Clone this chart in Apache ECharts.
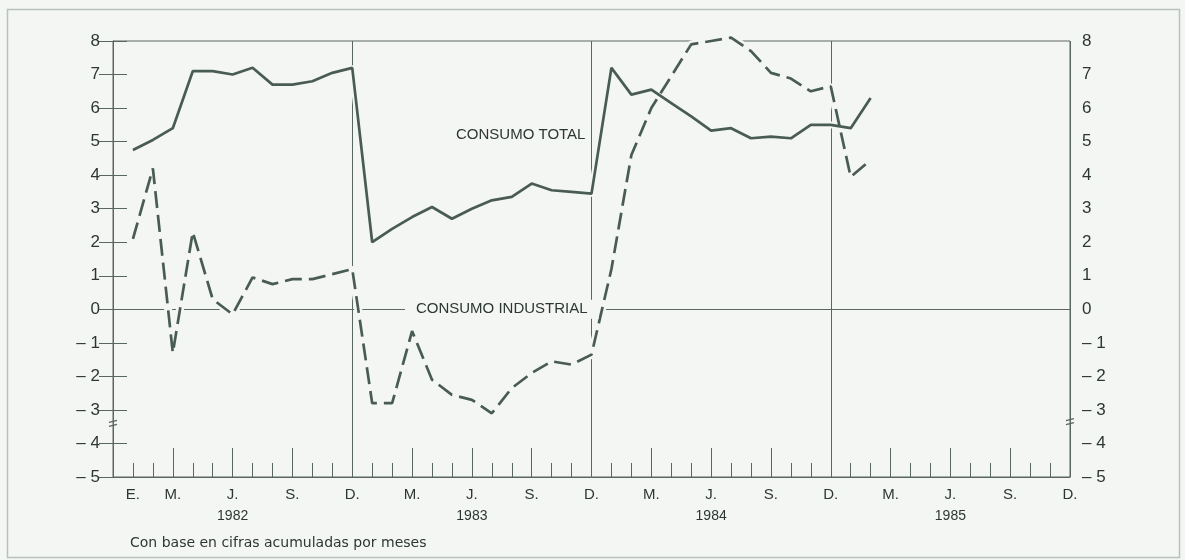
<!DOCTYPE html>
<html>
<head>
<meta charset="utf-8">
<script src="https://cdn.jsdelivr.net/npm/echarts@6/dist/echarts.min.js"></script>
<style>
html,body{margin:0;padding:0;background:#f4f6f4;}
#c{width:1185px;height:560px;}
</style>
</head>
<body>
<div id="c"></div>
<script>
// ---- data (month index: 1 = enero 1982, 12 = dic 1982, ... 48 = dic 1985)
const months = [1,2,3,4,5,6,7,8,9,10,11,12,13,14,15,16,17,18,19,20,21,22,23,24,25,26,27,28,29,30,31,32,33,34,35,36,37,38];
const consumoTotal = [4.75,5.05,5.4,7.1,7.1,7.0,7.2,6.7,6.7,6.8,7.05,7.2,
  2.0,2.4,2.75,3.05,2.7,3.0,3.25,3.35,3.75,3.55,3.5,3.45,
  7.2,6.4,6.55,6.15,5.75,5.33,5.4,5.1,5.15,5.1,5.5,5.5,
  5.4,6.3];
const consumoIndustrial = [2.1,4.2,-1.3,2.3,0.3,-0.15,0.95,0.75,0.9,0.9,1.05,1.2,
  -2.8,-2.8,-0.65,-2.1,-2.55,-2.7,-3.1,-2.35,-1.9,-1.55,-1.65,-1.35,
  1.2,4.6,6.0,6.95,7.9,8.0,8.1,7.7,7.05,6.88,6.5,6.65,
  3.95,4.45];
const labelMonths = [1,3,6,9,12,15,18,21,24,27,30,33,36,39,42,45,48];
const labelTexts  = ['E.','M.','J.','S.','D.','M.','J.','S.','D.','M.','J.','S.','D.','M.','J.','S.','D.'];
const yearMonths = [6,18,30,42];
const years = ['1982','1983','1984','1985'];
const seriesNames = ['CONSUMO TOTAL','CONSUMO INDUSTRIAL'];
const footnote = 'Con base en cifras acumuladas por meses';

const BG = '#f4f6f4';
const LINE = '#495b55';
const AXIS = '#5a6662';
const TEXT = '#2c3733';
const FONT = '"Liberation Sans", Arial, sans-serif';

const totalPts = months.map((m,i)=>[m, consumoTotal[i]]);
const indPts = months.map((m,i)=>[m, consumoIndustrial[i]]);

const chart = echarts.init(document.getElementById('c'), null, {renderer:'canvas'});

function xLabel(v){
  const i = labelMonths.indexOf(v);
  if (i < 0) return '';
  const k = yearMonths.indexOf(v);
  if (k >= 0) return '{m|' + labelTexts[i] + '}\n{y|' + years[k] + '}';
  return '{m|' + labelTexts[i] + '}';
}
function yLabel(v){ return v < 0 ? '\u2013 ' + (-v) : String(v); }

const baseX = {type:'value', min:0, max:48, position:'bottom', axisLine:{show:false, onZero:false},
  axisTick:{show:false}, axisLabel:{show:false}, splitLine:{show:false}};

chart.setOption({
  animation:false,
  backgroundColor:'transparent',
  grid:{left:113, right:115, top:41, bottom:83, show:true, borderColor:AXIS, borderWidth:1, backgroundColor:'transparent'},
  xAxis:[
    Object.assign({}, baseX, {interval:1,
      axisLine:{show:true, onZero:false, lineStyle:{color:AXIS, width:1}},
      axisTick:{show:true, inside:true, length:14, lineStyle:{color:AXIS, width:1}},
      axisLabel:{show:true, margin:8, formatter:xLabel, color:TEXT, fontFamily:FONT,
        rich:{m:{fontSize:15, lineHeight:19, color:TEXT, fontFamily:FONT},
              y:{fontSize:14, lineHeight:25, color:TEXT, fontFamily:FONT}}}}),
    Object.assign({}, baseX, {interval:3,
      axisTick:{show:true, inside:true, length:29, lineStyle:{color:AXIS, width:1}}}),
    Object.assign({}, baseX, {interval:12,
      splitLine:{show:true, lineStyle:{color:AXIS, width:1}}}),
    Object.assign({}, baseX, {interval:48,
      axisLine:{show:true, onZero:true, lineStyle:{color:AXIS, width:1}}})
  ],
  yAxis:[
    {type:'value', min:-5, max:8, interval:1, position:'left',
      axisLine:{show:true, lineStyle:{color:AXIS, width:1}},
      axisTick:{show:true, inside:true, length:14, lineStyle:{color:AXIS}},
      axisLabel:{margin:13, fontSize:17, color:TEXT, fontFamily:FONT, formatter:yLabel},
      splitLine:{show:false}},
    {type:'value', min:-5, max:8, interval:1, position:'right',
      axisLine:{show:true, lineStyle:{color:AXIS, width:1}},
      axisTick:{show:true, inside:true, length:14, lineStyle:{color:AXIS}},
      axisLabel:{margin:12, fontSize:17, color:TEXT, fontFamily:FONT, formatter:yLabel},
      splitLine:{show:false}}
  ],
  series:[
    {type:'line', data:indPts, showSymbol:false, clip:false, z:5, silent:true,
      lineStyle:{color:BG, width:8}},
    {type:'line', data:totalPts, showSymbol:false, clip:false, z:5, silent:true,
      lineStyle:{color:BG, width:7}},
    {name:seriesNames[1], type:'line', data:indPts, showSymbol:false, clip:false, z:6,
      lineStyle:{color:LINE, width:2.7, type:[17,7]}},
    {name:seriesNames[0], type:'line', data:totalPts, showSymbol:false, clip:false, z:6,
      lineStyle:{color:LINE, width:2.7}}
  ]
});

function px(x, y){ return chart.convertToPixel({gridIndex:0}, [x, y]); }
const pTot = px(20.45, 5.2);
const pInd = px(19.5, 0);
const bL = px(0, -3.4), bR = px(48, -3.35);
function breakMark(p){
  return [
    {type:'line', shape:{x1:p[0]-4, y1:p[1]-1, x2:p[0]+4, y2:p[1]-3}, style:{stroke:AXIS, lineWidth:1.3}, z:20},
    {type:'line', shape:{x1:p[0]-4, y1:p[1]+3, x2:p[0]+4, y2:p[1]+1}, style:{stroke:AXIS, lineWidth:1.3}, z:20}
  ];
}
chart.setOption({
  graphic:[
    {type:'rect', shape:{x:7.5, y:9.5, width:1172, height:548}, style:{fill:null, stroke:'#b9c1bd', lineWidth:1.5}, z:0, silent:true},
    {type:'text', x:pTot[0], y:pTot[1], style:{text:seriesNames[0], font:'15px ' + FONT, fill:TEXT, align:'center', verticalAlign:'middle'}, z:20},
    {type:'text', x:pInd[0], y:pInd[1], style:{text:seriesNames[1], font:'15px ' + FONT, fill:TEXT, align:'center', verticalAlign:'middle',
      backgroundColor:BG, padding:[2,11]}, z:20},
    {type:'text', x:130, y:543, style:{text:footnote, font:'14px "DejaVu Sans", sans-serif', fill:TEXT, align:'left', verticalAlign:'middle'}, z:20}
  ].concat(breakMark(bL), breakMark(bR))
});
</script>
</body>
</html>
